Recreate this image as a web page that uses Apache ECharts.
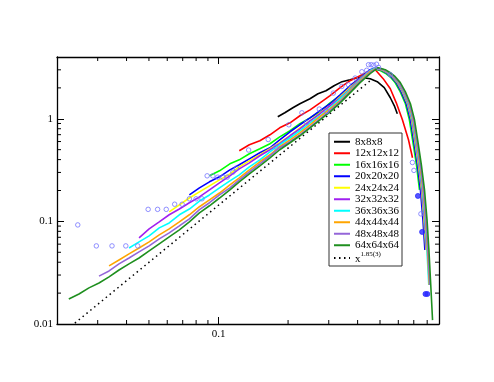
<!DOCTYPE html>
<html>
<head>
<meta charset="utf-8">
<script src="https://cdn.jsdelivr.net/npm/echarts@6/dist/echarts.min.js"></script>
<style>
html, body { margin: 0; padding: 0; background: #fff; }
#chart { width: 494px; height: 382px; }
</style>
</head>
<body>
<div id="chart"></div>
<script>
// shared x positions for the rising part of the curves
const xGrid = [0.0225, 0.0249, 0.0275, 0.0304, 0.0336, 0.0371, 0.0410, 0.0453, 0.0501, 0.0554,
  0.0612, 0.0677, 0.0748, 0.0827, 0.0914, 0.101, 0.112, 0.123, 0.136, 0.151,
  0.167, 0.184, 0.204, 0.225, 0.249, 0.275, 0.304, 0.336, 0.371, 0.410, 0.453];

const names = ["8x8x8", "12x12x12", "16x16x16", "20x20x20", "24x24x24", "32x32x32",
  "36x36x36", "44x44x44", "48x48x48", "64x64x64"];
const colors = ["#000000", "#ff0000", "#00ff00", "#0000ff", "#ffff00", "#a020f0",
  "#00ffff", "#ffa500", "#9466d8", "#1f8f1f"];

// first xGrid index of each rising part (8x8x8 has its own points)
const startIdx = [null, 17, 14, 12, 10, 7, 6, 4, 3, 0];

const curve8 = [[0.1805, 1.046], [0.1936, 1.144], [0.2098, 1.28], [0.225, 1.40], [0.2488, 1.567],
  [0.2694, 1.753], [0.2918, 1.875], [0.3162, 2.10], [0.3425, 2.30], [0.3712, 2.40], [0.398, 2.51],
  [0.4227, 2.51], [0.4534, 2.456], [0.4864, 2.30], [0.5216, 2.01], [0.554, 1.603], [0.5767, 1.339],
  [0.594, 1.119]];

const y12 = [0.488, 0.558, 0.610, 0.698, 0.817, 0.914, 1.07, 1.22, 1.43, 1.68, 2.01, 2.35, 2.63, 2.94];
const tail12 = [[0.477, 3.0], [0.516, 2.46], [0.554, 1.96], [0.588, 1.43], [0.625, 0.978], [0.664, 0.624], [0.691, 0.417]];

const y16 = [0.278, 0.311, 0.364, 0.398, 0.456, 0.510, 0.571, 0.667, 0.764, 0.894, 1.02, 1.17, 1.43, 1.68, 2.05, 2.51, 2.94];
const tail16 = [[0.467, 3.05], [0.501, 2.95], [0.527, 2.78], [0.554, 2.55], [0.582, 2.24], [0.612, 1.83],
  [0.644, 1.40], [0.670, 0.978], [0.697, 0.558], [0.719, 0.356], [0.741, 0.203]];

const y20 = [0.181, 0.212, 0.243, 0.272, 0.318, 0.356, 0.407, 0.467, 0.522, 0.624, 0.747, 0.874, 1.02, 1.20, 1.40, 1.71, 2.10, 2.51, 3.01];
const tail20 = [[0.472, 3.1], [0.506, 2.98], [0.532, 2.8], [0.559, 2.57], [0.588, 2.25], [0.618, 1.83],
  [0.650, 1.40], [0.677, 0.978], [0.704, 0.558], [0.726, 0.356], [0.748, 0.203], [0.767, 0.103], [0.782, 0.0527]];

const y24 = [0.124, 0.145, 0.169, 0.194, 0.222, 0.254, 0.290, 0.340, 0.389, 0.446, 0.510, 0.584, 0.683, 0.817, 0.956, 1.14, 1.34, 1.64, 2.01, 2.46, 2.94];
const tail24 = [[0.477, 3.1], [0.511, 2.99], [0.538, 2.8], [0.565, 2.57], [0.594, 2.25], [0.625, 1.83],
  [0.657, 1.40], [0.684, 0.978], [0.711, 0.558], [0.733, 0.356], [0.756, 0.203], [0.775, 0.103], [0.790, 0.0527]];

const y32 = [0.0690, 0.0845, 0.0989, 0.116, 0.132, 0.152, 0.173, 0.203, 0.237, 0.278, 0.325, 0.372, 0.436, 0.499, 0.571, 0.683, 0.799, 0.956, 1.12, 1.34, 1.60, 1.96, 2.46, 2.94];
const tail32 = [[0.479, 3.12], [0.514, 3.0], [0.540, 2.81], [0.568, 2.57], [0.597, 2.25], [0.628, 1.83],
  [0.660, 1.40], [0.687, 0.978], [0.715, 0.558], [0.737, 0.356], [0.759, 0.203], [0.779, 0.103], [0.794, 0.0527]];

const y36 = [0.0551, 0.0631, 0.0723, 0.0864, 0.0966, 0.116, 0.132, 0.158, 0.181, 0.212, 0.248, 0.284, 0.340, 0.398, 0.477, 0.558, 0.653, 0.764, 0.914, 1.07, 1.28, 1.57, 1.92, 2.40, 2.94];
const tail36 = [[0.482, 3.14], [0.516, 3.01], [0.543, 2.81], [0.571, 2.57], [0.600, 2.25], [0.631, 1.83],
  [0.663, 1.40], [0.690, 0.978], [0.718, 0.558], [0.740, 0.356], [0.763, 0.203], [0.783, 0.103], [0.798, 0.0527], [0.813, 0.024]];

const y44 = [0.0368, 0.0421, 0.0482, 0.0551, 0.0631, 0.0739, 0.0845, 0.0989, 0.116, 0.139, 0.162, 0.189, 0.227, 0.266, 0.318, 0.381, 0.446, 0.534, 0.624, 0.730, 0.874, 1.05, 1.25, 1.50, 1.88, 2.35, 2.88];
const tail44 = [[0.484, 3.12], [0.519, 3.0], [0.546, 2.81], [0.574, 2.57], [0.603, 2.25], [0.634, 1.83],
  [0.667, 1.40], [0.694, 0.978], [0.722, 0.558], [0.744, 0.356], [0.767, 0.203], [0.787, 0.103], [0.802, 0.0527], [0.817, 0.024]];

const y48 = [0.0293, 0.0329, 0.0385, 0.0440, 0.0504, 0.0577, 0.0675, 0.0773, 0.0903, 0.106, 0.130, 0.152, 0.181, 0.212, 0.254, 0.304, 0.364, 0.436, 0.522, 0.597, 0.698, 0.836, 1.00, 1.20, 1.47, 1.83, 2.30, 2.81];
const tail48 = [[0.486, 3.13], [0.522, 3.0], [0.549, 2.8], [0.577, 2.56], [0.606, 2.24], [0.637, 1.83],
  [0.670, 1.40], [0.698, 0.978], [0.726, 0.558], [0.748, 0.356], [0.771, 0.203], [0.791, 0.103], [0.806, 0.0527], [0.821, 0.024]];

const y64 = [0.0175, 0.0196, 0.0225, 0.0251, 0.0288, 0.0336, 0.0385, 0.0440, 0.0515, 0.0603, 0.0706, 0.0826, 0.0988, 0.121, 0.142, 0.169, 0.203, 0.243, 0.290, 0.348, 0.416, 0.499, 0.584, 0.683, 0.817, 0.978, 1.17, 1.43, 1.79, 2.25, 2.75];
const tail64 = [[0.491, 3.15], [0.527, 3.01], [0.554, 2.81], [0.582, 2.57], [0.612, 2.25], [0.644, 1.83],
  [0.677, 1.40], [0.705, 0.978], [0.733, 0.558], [0.755, 0.356], [0.779, 0.203], [0.799, 0.103], [0.814, 0.0527], [0.829, 0.024], [0.844, 0.0109]];

const fitLine = [[0.0239, 0.0102], [0.4534, 2.35]];
const fitName = "x^1.85(3)";

// blue markers
const rings = [[0.0246, 0.0924], [0.0296, 0.0577], [0.0346, 0.0577], [0.0397, 0.0577], [0.0447, 0.0577],
  [0.0496, 0.131], [0.0545, 0.131], [0.0594, 0.131], [0.0646, 0.147], [0.0696, 0.147], [0.0748, 0.166],
  [0.080, 0.166], [0.0848, 0.166], [0.0893, 0.278], [0.0945, 0.278], [0.0993, 0.270], [0.1044, 0.270],
  [0.1091, 0.270], [0.1154, 0.302], [0.1194, 0.330], [0.135, 0.496], [0.1641, 0.628], [0.177, 0.530],
  [0.2015, 0.874], [0.2296, 1.144], [0.2406, 0.920], [0.273, 1.243], [0.2939, 1.178], [0.3141, 1.781],
  [0.3416, 2.065], [0.3649, 2.146], [0.3903, 2.494], [0.4173, 2.873], [0.4378, 2.97], [0.4458, 3.364],
  [0.4579, 3.364], [0.4695, 3.327], [0.4829, 3.40], [0.4927, 3.17], [0.554, 2.687], [0.6906, 0.375],
  [0.701, 0.314], [0.7516, 0.1184]];
const dots = [[0.7295, 0.177], [0.7606, 0.079], [0.7865, 0.0196], [0.8007, 0.0196]];

// axis ticks
const xMin = 0.02, xMax = 0.9, yMin = 0.01, yMax = 4;
const xMinor = [0.03, 0.04, 0.05, 0.06, 0.07, 0.08, 0.09, 0.2, 0.3, 0.4, 0.5, 0.6, 0.7, 0.8];
const yMinor = [0.02, 0.03, 0.04, 0.05, 0.06, 0.07, 0.08, 0.09, 0.2, 0.3, 0.4, 0.5, 0.6, 0.7, 0.8, 0.9, 2, 3];

const font = "'Liberation Serif', 'Times New Roman', serif";
const ys = [null, y12, y16, y20, y24, y32, y36, y44, y48, y64];
const tails = [null, tail12, tail16, tail20, tail24, tail32, tail36, tail44, tail48, tail64];

function curveData(i) {
  if (i === 0) return curve8;
  return xGrid.slice(startIdx[i]).map((x, k) => [x, ys[i][k]]).concat(tails[i]);
}

function axis(kind, pos) {
  const isX = kind === "x";
  const main = pos === "bottom" || pos === "left";
  return {
    type: "log",
    logBase: 10,
    min: isX ? xMin : yMin,
    max: isX ? xMax : yMax,
    position: pos,
    axisLine: { show: true, lineStyle: { color: "#000", width: 1.3 } },
    axisTick: { show: true, inside: true, length: 7, lineStyle: { color: "#000", width: 1 } },
    axisLabel: {
      show: main,
      color: "#000",
      fontFamily: font,
      fontSize: 11,
      margin: isX ? 5 : 4,
      showMinLabel: !isX,
      showMaxLabel: false,
    },
    splitLine: { show: false },
  };
}

// small inside ticks at 2..9 of each decade, on both opposite edges
function minorTicks(vals, isX) {
  return {
    type: "custom",
    silent: true,
    clip: false,
    z: 30,
    data: vals.map((v) => (isX ? [v, yMin] : [xMin, v])),
    renderItem: function (params, api) {
      const v = api.value(isX ? 0 : 1);
      const a = api.coord(isX ? [v, yMin] : [xMin, v]);
      const b = api.coord(isX ? [v, yMax] : [xMax, v]);
      const st = { stroke: "#000", lineWidth: 1 };
      const shapes = isX
        ? [{ x1: a[0], y1: a[1], x2: a[0], y2: a[1] - 4 }, { x1: b[0], y1: b[1], x2: b[0], y2: b[1] + 4 }]
        : [{ x1: a[0], y1: a[1], x2: a[0] + 4, y2: a[1] }, { x1: b[0], y1: b[1], x2: b[0] - 4, y2: b[1] }];
      return {
        type: "group",
        children: shapes.map((s) => ({ type: "line", shape: s, style: st })),
      };
    },
  };
}

const series = names.map((n, i) => ({
  name: n,
  type: "line",
  data: curveData(i),
  showSymbol: false,
  symbol: "none",
  lineStyle: { color: colors[i], width: 1.6 },
  itemStyle: { color: colors[i] },
  z: 3 + i,
}));

series.push({
  name: fitName,
  type: "line",
  data: fitLine,
  showSymbol: false,
  symbol: "none",
  lineStyle: { color: "#000", width: 1.5, type: [1.5, 3.5] },
  itemStyle: { color: "#000" },
  z: 2,
});

series.push({
  name: "rings",
  type: "scatter",
  data: rings,
  symbol: "circle",
  symbolSize: 4.5,
  itemStyle: { color: "rgba(0,0,0,0)", borderColor: "#7474ff", borderWidth: 1 },
  z: 20,
});
series.push({
  name: "dots",
  type: "scatter",
  data: dots,
  symbol: "circle",
  symbolSize: 5,
  itemStyle: { color: "#2a2aff", borderColor: "#2a2aff", borderWidth: 1 },
  z: 20,
});
series.push(minorTicks(xMinor, true));
series.push(minorTicks(yMinor, false));

const myChart = echarts.init(document.getElementById("chart"), null, { renderer: "canvas" });
myChart.setOption({
  animation: false,
  backgroundColor: "#fff",
  grid: { left: 57, right: 55, top: 57, bottom: 58, containLabel: false },
  xAxis: [axis("x", "bottom"), axis("x", "top")],
  yAxis: [axis("y", "left"), axis("y", "right")],
  legend: {
    data: names.concat([fitName]),
    orient: "vertical",
    left: 329,
    top: 133,
    padding: [3, 3, 1, 4],
    itemGap: 0,
    itemWidth: 16,
    itemHeight: 8,
    backgroundColor: "#fff",
    borderColor: "#333",
    borderWidth: 1,
    borderRadius: 0,
    itemStyle: { opacity: 0 },
    textStyle: {
      color: "#000",
      fontFamily: font,
      fontSize: 11,
      lineHeight: 11.5,
      rich: {
        b: { fontFamily: font, fontSize: 11, verticalAlign: "bottom", lineHeight: 14 },
        s: { fontFamily: font, fontSize: 7, verticalAlign: "top", lineHeight: 14 },
      },
    },
    formatter: function (name) {
      if (name.indexOf("^") > 0) {
        const p = name.split("^");
        return "{b|" + p[0] + "}{s|" + p[1] + "}";
      }
      return name;
    },
  },
  series: series,
});
</script>
</body>
</html>
